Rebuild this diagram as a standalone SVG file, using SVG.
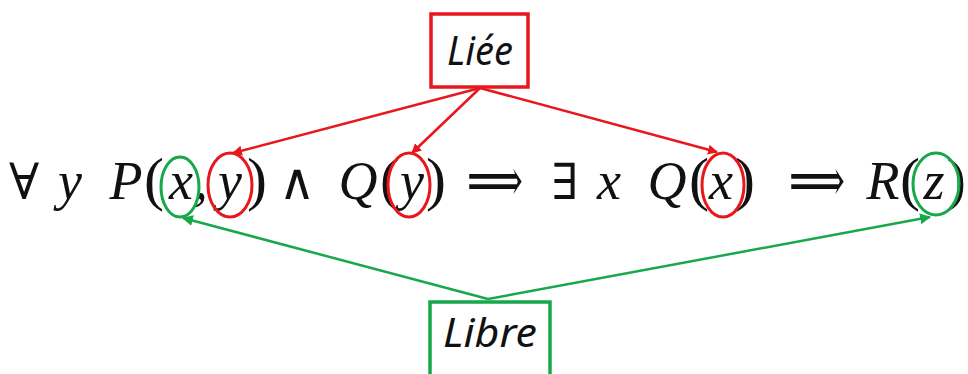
<svg xmlns="http://www.w3.org/2000/svg" width="968" height="374" viewBox="0 0 968 374">
<style>
.m{font-family:"Liberation Serif","Times New Roman",serif;font-style:italic;font-size:54px;fill:#111;text-anchor:middle}
.s{font-family:"DejaVu Serif","Liberation Serif",serif;font-size:50px;fill:#111;text-anchor:middle}
.a{font-family:"DejaVu Serif","DejaVu Sans",serif;font-size:40px;fill:#111}
.p{font-style:normal;font-size:60px}
.lbl{font-family:"Noto Sans","DejaVu Sans",sans-serif;font-style:italic;font-size:40px;fill:#111}
.red{stroke:#e8171c;fill:none}
.grn{stroke:#17a84a;fill:none}
</style>
<defs>
<marker id="ar" viewBox="0 0 10 10" refX="9" refY="5" markerWidth="10" markerHeight="10" markerUnits="userSpaceOnUse" orient="auto"><path d="M0,0 L10,5 L0,10 z" fill="#e8171c"/></marker>
<marker id="ag" viewBox="0 0 10 10" refX="9" refY="5" markerWidth="11" markerHeight="11" markerUnits="userSpaceOnUse" orient="auto"><path d="M0,0 L10,5 L0,10 z" fill="#17a84a"/></marker>
</defs>
<rect width="968" height="374" fill="#fff"/>
<g id="formula">
<text class="s" x="24" y="199">∀</text>
<text class="m" x="70" y="199">y</text>
<text class="m" y="199"><tspan x="126">P</tspan><tspan class="p" x="154">(</tspan><tspan x="181">x</tspan><tspan x="201">,</tspan><tspan x="230">y</tspan><tspan class="p" x="257">)</tspan></text>
<text class="s" x="297" y="199">∧</text>
<text class="m" y="199"><tspan x="358">Q</tspan><tspan class="p" x="390">(</tspan><tspan x="412">y</tspan><tspan class="p" x="436">)</tspan></text>
<text class="a" transform="translate(467,201) scale(1,1.5)" textLength="56" lengthAdjust="spacingAndGlyphs">⟹</text>
<text class="s" x="565" y="199">∃</text>
<text class="m" x="609" y="199">x</text>
<text class="m" y="199"><tspan x="667">Q</tspan><tspan class="p" x="699">(</tspan><tspan x="721">x</tspan><tspan class="p" x="745">)</tspan></text>
<text class="a" transform="translate(789,201) scale(1,1.5)" textLength="56" lengthAdjust="spacingAndGlyphs">⟹</text>
<text class="m" y="199"><tspan x="883">R</tspan><tspan class="p" x="910">(</tspan><tspan x="934">z</tspan><tspan class="p" x="956">)</tspan></text>
</g>
<g id="circles" stroke-width="3">
<ellipse class="grn" cx="180" cy="187" rx="19" ry="30"/>
<ellipse class="red" cx="230" cy="185" rx="22" ry="32"/>
<ellipse class="red" cx="409" cy="185" rx="21" ry="32"/>
<ellipse class="red" cx="723" cy="185" rx="21" ry="32"/>
<ellipse class="grn" cx="936" cy="184" rx="23" ry="31"/>
</g>
<g id="liee">
<rect x="431" y="14" width="97" height="73" class="red" stroke-width="3.5"/>
<text class="lbl" x="447" y="65" textLength="66" lengthAdjust="spacingAndGlyphs">Liée</text>
</g>
<g id="libre">
<rect x="430" y="302" width="120" height="80" class="grn" stroke-width="3.5"/>
<text class="lbl" x="443" y="347" textLength="94" lengthAdjust="spacingAndGlyphs">Libre</text>
</g>
<g id="connectors" stroke-width="2.5">
<line class="red" x1="480" y1="88" x2="233" y2="153" marker-end="url(#ar)"/>
<line class="red" x1="480" y1="88" x2="412" y2="153" marker-end="url(#ar)"/>
<line class="red" x1="480" y1="88" x2="717" y2="152" marker-end="url(#ar)"/>
<line class="grn" x1="488" y1="299" x2="183" y2="218" marker-end="url(#ag)"/>
<line class="grn" x1="488" y1="299" x2="930" y2="217" marker-end="url(#ag)"/>
</g>
</svg>
